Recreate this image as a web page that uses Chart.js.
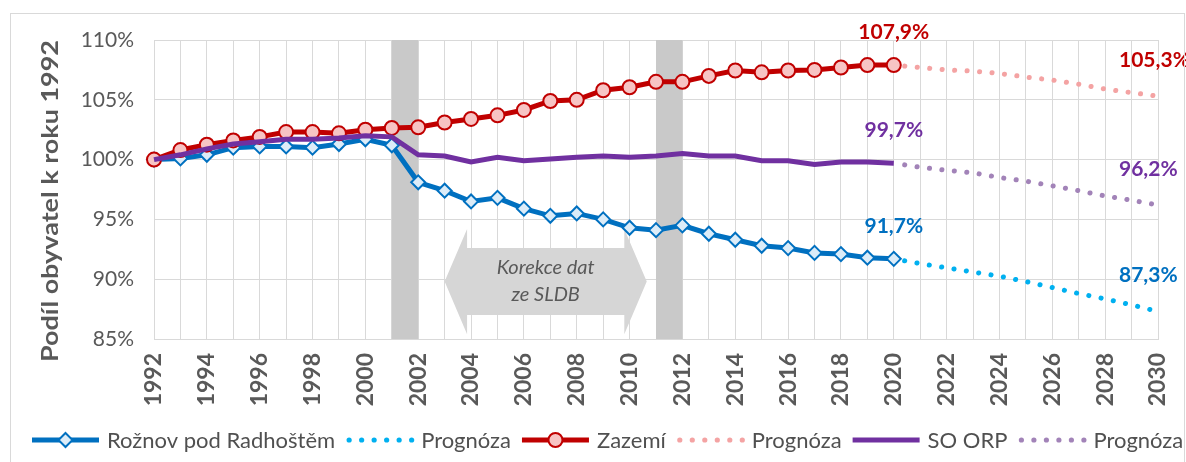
<!DOCTYPE html>
<html lang="cs">
<head>
<meta charset="utf-8">
<title>Podíl obyvatel k roku 1992</title>
<script src="https://cdn.jsdelivr.net/npm/chart.js@4.4.1/dist/chart.umd.min.js"></script>
<style>
  html, body { margin: 0; padding: 0; background: #fff; }
  #wrap { width: 1186px; height: 462px; }
</style>
</head>
<body>
<div id="wrap"><canvas id="chart" width="1186" height="462"></canvas></div>
<script>
// categories
const years = [];
for (let y = 1992; y <= 2030; y++) years.push(String(y));

// actual values 1992-2020 (index 1992 = 100 %)
const roznov = [100, 100.1, 100.4, 101.0, 101.1, 101.1, 101.0, 101.3, 101.7, 101.2,
  98.1, 97.4, 96.5, 96.8, 95.9, 95.3, 95.5, 95.0, 94.3, 94.1,
  94.5, 93.8, 93.3, 92.8, 92.6, 92.2, 92.1, 91.8, 91.7];
const zazemi = [100, 100.8, 101.25, 101.6, 101.9, 102.3, 102.3, 102.2, 102.5, 102.65,
  102.7, 103.1, 103.4, 103.7, 104.15, 104.9, 105.0, 105.8, 106.05, 106.5,
  106.5, 107.0, 107.45, 107.3, 107.45, 107.5, 107.7, 107.9, 107.9];
const soOrp = [100, 100.4, 100.9, 101.3, 101.5, 101.7, 101.7, 101.8, 102.0, 101.9,
  100.4, 100.3, 99.8, 100.2, 99.9, 100.05, 100.2, 100.3, 100.2, 100.3,
  100.5, 100.3, 100.3, 99.9, 99.9, 99.6, 99.8, 99.8, 99.7];

// forecasts 2020-2030
const roznovProg = [91.7, 91.3, 90.95, 90.6, 90.25, 89.8, 89.3, 88.8, 88.35, 87.85, 87.3];
const zazemiProg = [107.9, 107.7, 107.5, 107.4, 107.2, 106.9, 106.65, 106.3, 105.9, 105.6, 105.3];
const soOrpProg = [99.7, 99.36, 99.1, 98.9, 98.5, 98.2, 97.8, 97.4, 96.96, 96.6, 96.2];

// census years (gray bands) and y ticks
const censusYears = [2001, 2011];
const yMin = 85, yMax = 110, yStep = 5;

const BLUE = '#0070c0', CYAN = '#00b0f0', RED = '#c00000', PINK = '#f4a3a3',
      PURPLE = '#7030a0', LILAC = '#a283b8', GRAY_TXT = '#595959';
const FONT = 'Lato, "Open Sans", sans-serif';

// actual series fill 1992-2020, forecast fills 2020-2030
const histPart = arr => arr.concat(new Array(years.length - arr.length).fill(null));
const progPart = arr => new Array(years.length - arr.length).fill(null).concat(arr);
const fmt = v => v.toFixed(1).replace('.', ',') + '%';

const dotted = { borderDash: [0.1, 12.4], borderDashOffset: 1.5, borderCapStyle: 'round', borderWidth: 5, pointRadius: 0 };

const decor = {
  id: 'decor',
  beforeDatasetsDraw(chart) {
    const { ctx, chartArea: a, scales: { x, y } } = chart;
    const px = yr => x.getPixelForValue(yr - 1992);
    ctx.save();
    // census bands
    ctx.fillStyle = '#c9c9c9';
    censusYears.forEach(c => {
      ctx.fillRect(px(c), a.top, px(c + 1) - px(c), a.bottom - a.top);
    });
    // double arrow "Korekce dat ze SLDB"
    const x0 = px(2003), x1 = px(2010.65), h = px(2003.85) - px(2003);
    const mid = y.getPixelForValue(89.8);
    const hT = y.getPixelForValue(94.2), hB = y.getPixelForValue(85.4);
    const bT = y.getPixelForValue(92.6), bB = y.getPixelForValue(87.0);
    ctx.fillStyle = '#d6d6d6';
    ctx.beginPath();
    ctx.moveTo(x0, mid);
    ctx.lineTo(x0 + h, hT);
    ctx.lineTo(x0 + h, bT);
    ctx.lineTo(x1 - h, bT);
    ctx.lineTo(x1 - h, hT);
    ctx.lineTo(x1, mid);
    ctx.lineTo(x1 - h, hB);
    ctx.lineTo(x1 - h, bB);
    ctx.lineTo(x0 + h, bB);
    ctx.lineTo(x0 + h, hB);
    ctx.closePath();
    ctx.fill();
    ctx.fillStyle = GRAY_TXT;
    ctx.font = 'italic 20px ' + FONT;
    ctx.textAlign = 'center';
    ctx.textBaseline = 'middle';
    ctx.fillText('Korekce dat', (x0 + x1) / 2, mid - 14);
    ctx.fillText('ze SLDB', (x0 + x1) / 2, mid + 13);
    ctx.restore();
  },
  afterDatasetsDraw(chart) {
    const { ctx, scales: { x, y } } = chart;
    ctx.save();
    ctx.font = 'bold 21px ' + FONT;
    ctx.textBaseline = 'middle';
    const last = (arr) => arr[arr.length - 1];
    const pairs = [[roznov, roznovProg, BLUE], [zazemi, zazemiProg, RED], [soOrp, soOrpProg, PURPLE]];
    pairs.forEach(([hist, prog, col]) => {
      ctx.fillStyle = col;
      ctx.textAlign = 'center';
      const xh = x.getPixelForValue(hist.length - 1);
      ctx.fillText(fmt(last(hist)), xh, y.getPixelForValue(last(hist)) - 33);
      ctx.textAlign = 'left';
      const xp = x.getPixelForValue(years.length - 1);
      ctx.fillText(fmt(last(prog)), xp - 39, y.getPixelForValue(last(prog)) - 36);
    });
    ctx.restore();
  },
  afterDraw(chart) {
    const { ctx } = chart;
    ctx.save();
    // outer frame
    ctx.strokeStyle = '#d9d9d9';
    ctx.lineWidth = 1;
    ctx.strokeRect(10.5, 13.5, 1174, 600);
    // y axis title
    const title = 'Podíl obyvatel k roku 1992';
    ctx.font = 'bold 22px ' + FONT;
    ctx.fillStyle = GRAY_TXT;
    ctx.textAlign = 'center';
    ctx.textBaseline = 'middle';
    const w = ctx.measureText(title).width;
    ctx.translate(51, 201);
    ctx.rotate(-Math.PI / 2);
    ctx.scale(322 / w, 1);
    ctx.fillText(title, 0, 0);
    ctx.restore();

    // legend
    ctx.save();
    ctx.font = '22px ' + FONT;
    ctx.textBaseline = 'middle';
    const ly = 440;
    let lx = 32;
    chart.data.datasets.forEach(ds => {
      const sw = 67;
      if (ds.borderDash) {
        ctx.fillStyle = ds.borderColor;
        for (let k = 0; k < 6; k++) {
          ctx.beginPath();
          ctx.arc(lx + 3 + k * 12.5, ly, 2.6, 0, Math.PI * 2);
          ctx.fill();
        }
      } else {
        ctx.strokeStyle = ds.borderColor;
        ctx.lineWidth = 5;
        ctx.lineCap = 'butt';
        ctx.beginPath();
        ctx.moveTo(lx, ly);
        ctx.lineTo(lx + sw, ly);
        ctx.stroke();
        if (ds.pointRadius > 0) {
          ctx.fillStyle = ds.pointBackgroundColor;
          ctx.strokeStyle = ds.borderColor;
          ctx.lineWidth = 2;
          ctx.beginPath();
          const cx = lx + sw / 2, r = ds.pointRadius;
          if (ds.pointStyle === 'rectRot') {
            ctx.moveTo(cx, ly - r); ctx.lineTo(cx + r, ly);
            ctx.lineTo(cx, ly + r); ctx.lineTo(cx - r, ly);
            ctx.closePath();
          } else {
            ctx.arc(cx, ly, r, 0, Math.PI * 2);
          }
          ctx.fill();
          ctx.stroke();
        }
      }
      lx += sw + 8;
      ctx.fillStyle = '#505050';
      ctx.fillText(ds.label, lx, ly + 1);
      lx += ctx.measureText(ds.label).width + 11;
    });
    ctx.restore();
  }
};

new Chart(document.getElementById('chart'), {
  type: 'line',
  data: {
    labels: years,
    datasets: [
      { label: 'Rožnov pod Radhoštěm', data: histPart(roznov), borderColor: BLUE, borderWidth: 5,
        pointStyle: 'rectRot', pointRadius: 7, pointBackgroundColor: '#dcecf8', pointBorderColor: BLUE,
        pointBorderWidth: 2, order: 4 },
      Object.assign({ label: 'Prognóza', data: progPart(roznovProg), borderColor: CYAN, order: 5 }, dotted),
      { label: 'Zazemí', data: histPart(zazemi), borderColor: RED, borderWidth: 5,
        pointStyle: 'circle', pointRadius: 7, pointBackgroundColor: '#f7c4c4', pointBorderColor: RED,
        pointBorderWidth: 2, order: 2 },
      Object.assign({ label: 'Prognóza', data: progPart(zazemiProg), borderColor: PINK, order: 3 }, dotted),
      { label: 'SO ORP', data: histPart(soOrp), borderColor: PURPLE, borderWidth: 5, pointRadius: 0, order: 0 },
      Object.assign({ label: 'Prognóza', data: progPart(soOrpProg), borderColor: LILAC, order: 1 }, dotted)
    ]
  },
  options: {
    responsive: false,
    animation: false,
    devicePixelRatio: 1,
    layout: { padding: { top: 40, right: 28, left: 0, bottom: 0 } },
    plugins: { legend: { display: false }, tooltip: { enabled: false } },
    elements: { line: { tension: 0 } },
    scales: {
      x: {
        offset: false,
        grid: { color: '#d9d9d9', drawTicks: false },
        border: { color: '#d9d9d9' },
        ticks: {
          autoSkip: false, minRotation: 90, maxRotation: 90, padding: 14,
          color: GRAY_TXT, font: { family: FONT, size: 23, weight: 'bold' },
          callback: (v, i) => (Number(years[i]) % 2 === 0 ? years[i] : '')
        },
        afterFit: s => { s.height = 123; s.paddingLeft = 0; s.paddingRight = 0; }
      },
      y: {
        min: yMin, max: yMax,
        grid: { color: '#d9d9d9', drawTicks: false },
        border: { display: false },
        ticks: {
          stepSize: yStep, padding: 20, color: GRAY_TXT,
          font: { family: FONT, size: 21 },
          callback: v => v + '%'
        },
        afterFit: s => { s.width = 154; s.paddingTop = 0; s.paddingBottom = 0; }
      }
    }
  },
  plugins: [decor]
});
</script>
</body>
</html>
